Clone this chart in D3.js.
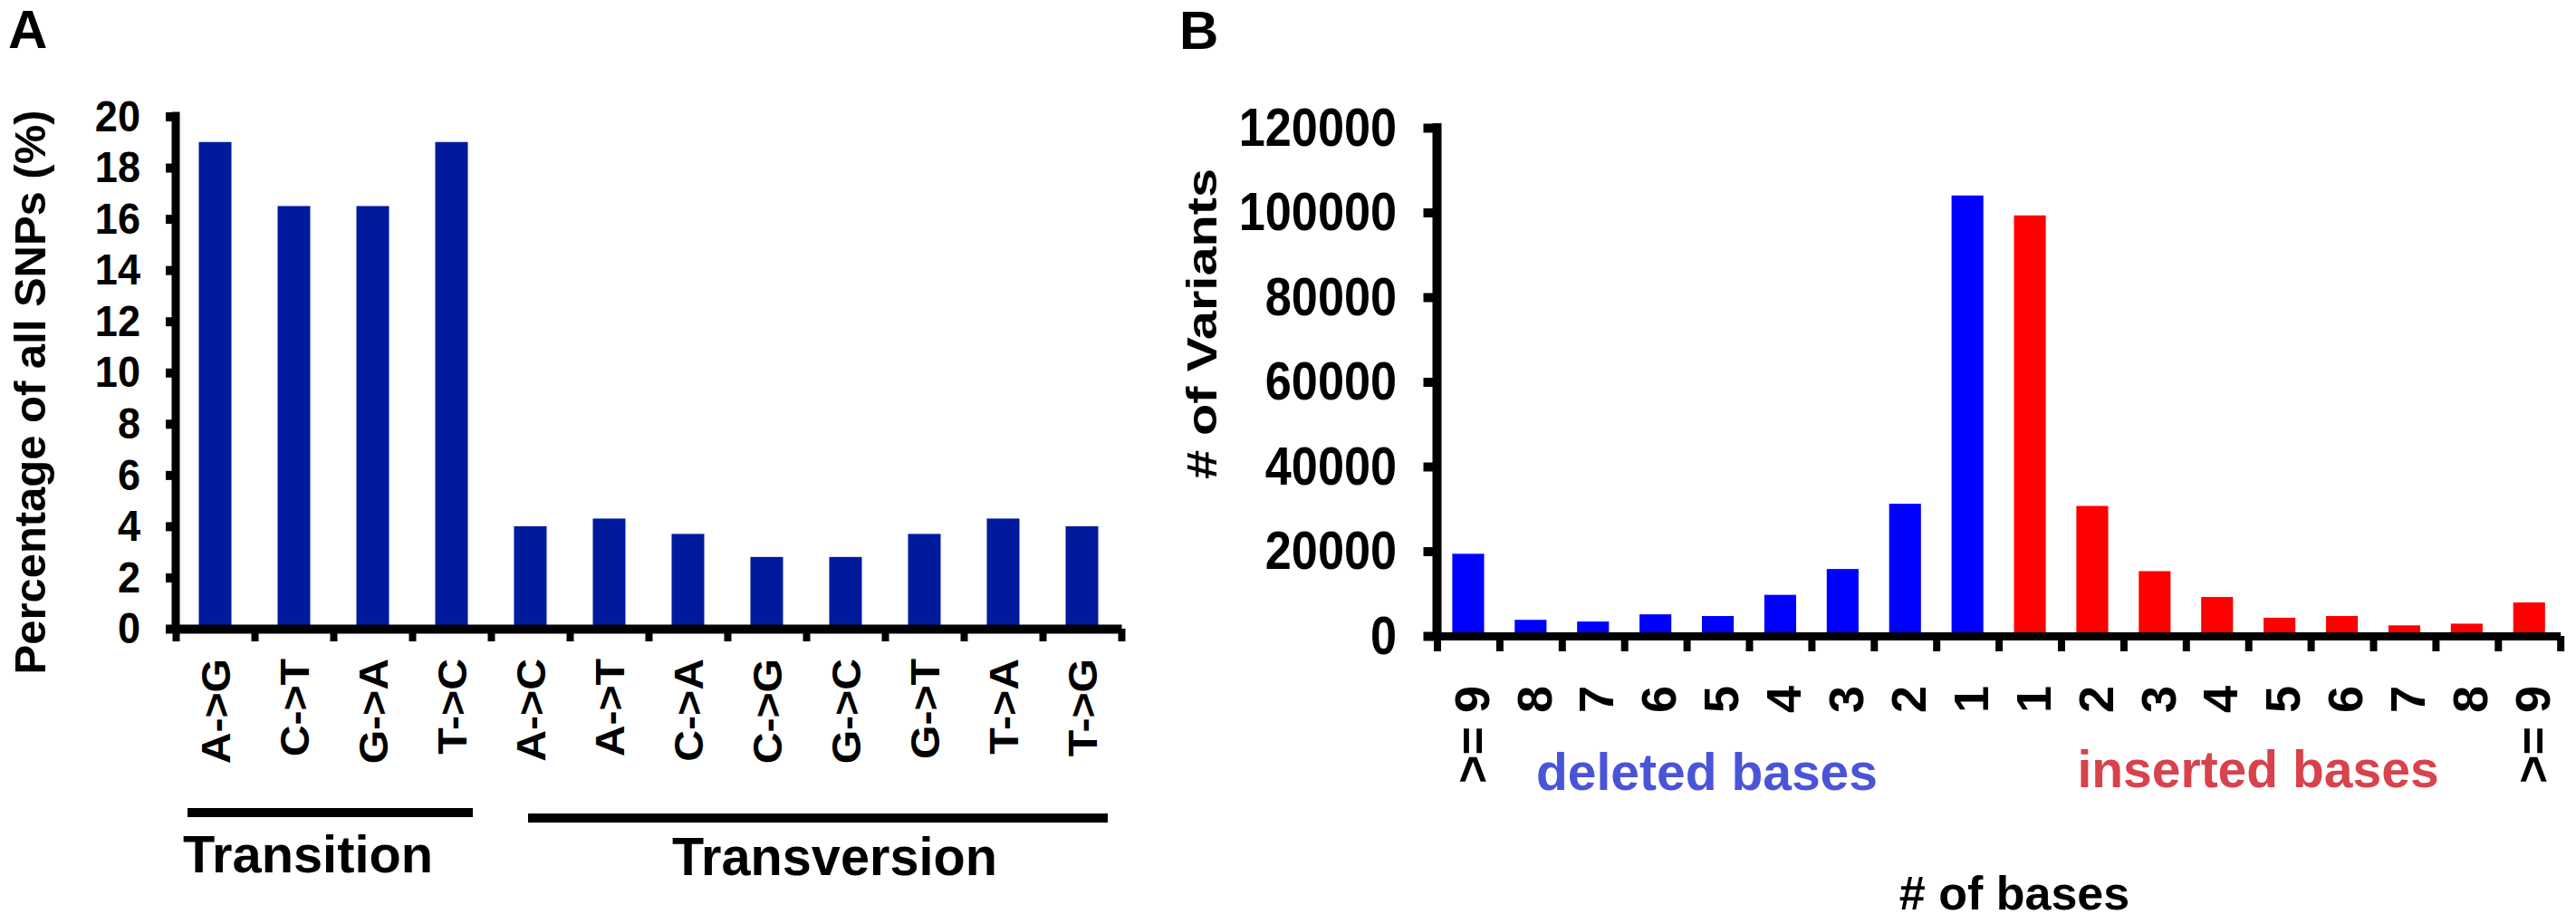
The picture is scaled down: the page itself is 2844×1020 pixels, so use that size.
<!DOCTYPE html>
<html><head><meta charset="utf-8">
<script src="https://cdn.jsdelivr.net/npm/d3@7"></script>
<style>
html,body{margin:0;padding:0;background:#fff;}
svg{display:block;background:#fff;}
text{font-family:"Liberation Sans",Arial,Helvetica,sans-serif;font-weight:bold;}
</style></head><body>
<svg id="chart" width="2844" height="1020"></svg>
<script>
// ---------- Panel A data ----------
const snpCategories = ["A->G","C->T","G->A","T->C","A->C","A->T","C->A","C->G","G->C","G->T","T->A","T->G"];
const snpPercent    = [19.0, 16.5, 16.5, 19.0, 4.0, 4.3, 3.7, 2.8, 2.8, 3.7, 4.3, 4.0];
const snpTicks      = [0,2,4,6,8,10,12,14,16,18,20];
const snpGroupNames = ["Transition","Transversion"];
const snpGroupSpans = [["A->G","T->C"],["A->C","T->G"]];
const snpYTitle     = "Percentage of all SNPs (%)";

// ---------- Panel B data ----------
const deletionLabels  = [">= 9","8","7","6","5","4","3","2","1"];
const deletionCounts  = [19400, 3800, 3400, 5100, 4700, 9700, 15800, 31200, 104000];
const insertionLabels = ["1","2","3","4","5","6","7","8",">= 9"];
const insertionCounts = [99300, 30700, 15300, 9200, 4300, 4700, 2500, 2900, 7900];
const indelTicks      = [0,20000,40000,60000,80000,100000,120000];
const indelGroupNames = ["deleted bases","inserted bases"];
const indelYTitle     = "# of Variants";
const indelXTitle     = "# of bases";

const svg = d3.select("#chart");

function fitLength(sel, factor){
  sel.each(function(){
    const L = this.getComputedTextLength();
    this.setAttribute("textLength", L*factor);
    this.setAttribute("lengthAdjust","spacingAndGlyphs");
  });
}
function setLength(sel, len){
  sel.attr("textLength", len).attr("lengthAdjust","spacingAndGlyphs");
}
function styleAxis(g, domainW, tickW){
  g.select(".domain").attr("stroke","#000").attr("stroke-width",domainW).attr("stroke-linecap","square");
  g.selectAll(".tick line").attr("stroke","#000").attr("stroke-width",tickW);
  g.attr("font-family",null).attr("font-size",null);
  g.selectAll("text").attr("fill","#000");
}

// ================= PANEL A =================
const gA = svg.append("g");
const xA = d3.scaleBand().domain(snpCategories).range([194,1238]).paddingInner(0.586).paddingOuter(0.293);
const bA = d3.scaleLinear().domain([0, snpCategories.length]).range([194,1238]);
const yA = d3.scaleLinear().domain([0,20]).range([694,128.5]);

gA.selectAll("rect.bar").data(snpPercent).join("rect").attr("class","bar")
  .attr("x",(d,i)=>xA(snpCategories[i])).attr("width",xA.bandwidth())
  .attr("y",d=>yA(d)).attr("height",d=>yA(0)-yA(d)).attr("fill","#001a9e");

// y axis
const axYA = gA.append("g").attr("transform","translate(194,0)")
  .call(d3.axisLeft(yA).tickValues(snpTicks).tickSize(11).tickSizeOuter(0).tickPadding(28).tickFormat(d3.format("d")));
styleAxis(axYA, 9, 10);
axYA.select(".domain").attr("stroke-linecap","butt").attr("d",`M0,${yA(20)-5}V${yA(0)}`);
axYA.selectAll("text").style("font-size","49px");
fitLength(axYA.selectAll("text"), 0.92);

// x axis line + boundary ticks
const axXA = gA.append("g").attr("transform",`translate(0,${yA(0)})`)
  .call(d3.axisBottom(bA).tickValues(d3.range(0, snpCategories.length+1)).tickSize(14).tickSizeOuter(0).tickFormat(""));
styleAxis(axXA, 10, 8);
axXA.select(".domain").attr("stroke-linecap","butt");

// category labels
const axLA = gA.append("g").attr("transform",`translate(0,${yA(0)})`)
  .call(d3.axisBottom(xA).tickSize(0));
axLA.select(".domain").remove();
axLA.attr("font-family",null).attr("font-size",null);
axLA.selectAll("text").attr("fill","#000").style("font-size","45px")
  .attr("transform","rotate(-90)").attr("x",-33).attr("y",0).attr("dy","0.37em").attr("text-anchor","end");
fitLength(axLA.selectAll("text"), 1.07);

// y title
gA.append("text").attr("transform","translate(50,433) rotate(-90)").attr("text-anchor","middle")
  .style("font-size","49px").text(snpYTitle).call(setLength, 623);

// group brackets
const bracketOffsets = [[13,-20],[41,-15]];
const bracketY = [897, 903];
snpGroupSpans.forEach((s,i)=>{
  const x0 = xA(s[0]) - xA.step()*xA.paddingOuter() + bracketOffsets[i][0];
  const x1 = xA(s[1]) + xA.bandwidth() + xA.step()*xA.paddingOuter() + bracketOffsets[i][1];
  gA.append("line").attr("x1",x0).attr("x2",x1).attr("y1",bracketY[i]).attr("y2",bracketY[i])
    .attr("stroke","#000").attr("stroke-width",10);
});
gA.append("text").attr("x",202).attr("y",963).style("font-size","58px").text(snpGroupNames[0]).call(setLength,276);
gA.append("text").attr("x",742).attr("y",966).style("font-size","60px").text(snpGroupNames[1]).call(setLength,359);

// panel letter
svg.append("text").attr("x",9).attr("y",53).style("font-size","60px").text("A");

// ================= PANEL B =================
const gB = svg.append("g");
const delKeys = deletionLabels.map((d,i)=>"del"+i);
const insKeys = insertionLabels.map((d,i)=>"ins"+i);
const indelKeys = delKeys.concat(insKeys);
const indelLabelOf = {};
delKeys.forEach((k,i)=>indelLabelOf[k]=deletionLabels[i]);
insKeys.forEach((k,i)=>indelLabelOf[k]=insertionLabels[i]);

const xB = d3.scaleBand().domain(indelKeys).range([1586.5,2826.7]).paddingInner(0.49).paddingOuter(0.245);
const bB = d3.scaleLinear().domain([0, indelKeys.length]).range([1586.5,2826.7]);
const yB = d3.scaleLinear().domain([0,120000]).range([702,141]);

gB.selectAll("rect.del").data(deletionCounts).join("rect").attr("class","del")
  .attr("x",(d,i)=>xB(delKeys[i])).attr("width",xB.bandwidth())
  .attr("y",d=>yB(d)).attr("height",d=>yB(0)-yB(d)).attr("fill","#0000ff");
gB.selectAll("rect.ins").data(insertionCounts).join("rect").attr("class","ins")
  .attr("x",(d,i)=>xB(insKeys[i])).attr("width",xB.bandwidth())
  .attr("y",d=>yB(d)).attr("height",d=>yB(0)-yB(d)).attr("fill","#ff0000");

const axYB = gB.append("g").attr("transform","translate(1586.5,0)")
  .call(d3.axisLeft(yB).tickValues(indelTicks).tickSize(15).tickSizeOuter(0).tickPadding(29.5).tickFormat(d3.format("d")));
styleAxis(axYB, 10, 10);
axYB.select(".domain").attr("stroke-linecap","butt").attr("d",`M0,${yB(120000)-5}V${yB(0)}`);
axYB.selectAll("text").style("font-size","60px");
fitLength(axYB.selectAll("text"), 0.87);

const axXB = gB.append("g").attr("transform",`translate(0,${yB(0)})`)
  .call(d3.axisBottom(bB).tickValues(d3.range(0, indelKeys.length+1)).tickSize(17).tickSizeOuter(0).tickFormat(""));
styleAxis(axXB, 9, 8);
axXB.select(".domain").attr("stroke-linecap","butt");

const axLB = gB.append("g").attr("transform",`translate(0,${yB(0)})`)
  .call(d3.axisBottom(xB).tickSize(0).tickFormat(k=>indelLabelOf[k]));
axLB.select(".domain").remove();
axLB.attr("font-family",null).attr("font-size",null);
axLB.selectAll("text").attr("fill","#000").style("font-size","54px")
  .attr("transform","rotate(-90)").attr("x",-55).attr("y",0).attr("dy","0.42em").attr("text-anchor","end");

gB.append("text").attr("transform","translate(1343,357.5) rotate(-90)").attr("text-anchor","middle")
  .style("font-size","46px").text(indelYTitle).call(setLength,343);

gB.append("text").attr("x",1884.5).attr("y",872).attr("text-anchor","middle").attr("fill","#4a54d8")
  .style("font-size","57px").text(indelGroupNames[0]);
gB.append("text").attr("x",2493).attr("y",869).attr("text-anchor","middle").attr("fill","#d8424c")
  .style("font-size","57px").text(indelGroupNames[1]);
gB.append("text").attr("x",2224).attr("y",1004).attr("text-anchor","middle")
  .style("font-size","52px").text(indelXTitle);

svg.append("text").attr("x",1302).attr("y",54).style("font-size","60px").text("B");
</script>
</body></html>
